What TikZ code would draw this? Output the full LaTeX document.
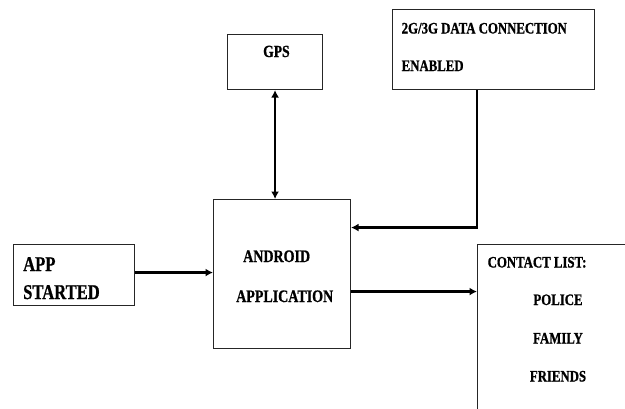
\documentclass[tikz,border=0pt]{standalone}
\usepackage{fontspec}
\newfontfamily\tnr{Liberation Serif}[FakeStretch=0.8,FakeBold=0.8]
\newfontfamily\tnrw{Liberation Serif}[FakeStretch=0.79,FakeBold=0.8]
\usetikzlibrary{arrows.meta}
\begin{document}
\begin{tikzpicture}[x=1pt,y=-1pt,
  box/.style={draw=black!85, line width=1.1pt, rectangle, anchor=north west, inner sep=0pt},
  lbl/.style={anchor=base west, inner sep=0pt, font=\tnr\bfseries\fontsize{16}{19}\selectfont},
  arr/.style={line width=2.4pt, -{Latex[length=7.5pt,width=8pt]}},
  arrtwo/.style={line width=2.4pt, {Latex[length=7.5pt,width=8pt]}-{Latex[length=7.5pt,width=8pt]}}]
\clip (0,0) rectangle (625,408);
\fill[white] (0,0) rectangle (625,408);
% boxes
\node[box, minimum width=121pt, minimum height=61pt] (app) at (13,244) {};
\node[box, minimum width=137pt, minimum height=149pt] (android) at (213,199) {};
\node[box, minimum width=95pt, minimum height=55pt] (gps) at (227,34) {};
\node[box, minimum width=202pt, minimum height=80pt] (gtwo) at (392,9) {};
\node[box, minimum width=160pt, minimum height=180pt] (contact) at (477,244) {};
% texts
\node[lbl, font=\tnrw\bfseries\fontsize{21}{25}\selectfont] (tapp) at (23,271) {APP};
\node[lbl, font=\tnrw\bfseries\fontsize{21}{25}\selectfont] (tstart) at (23,299) {STARTED};
\node[lbl, font=\tnr\bfseries\fontsize{17.5}{21}\selectfont] (tand) at (243,262) {ANDROID};
\node[lbl, font=\tnr\bfseries\fontsize{17.5}{21}\selectfont] (tappl) at (236,302) {APPLICATION};
\node[lbl, font=\tnr\bfseries\fontsize{17}{20}\selectfont] (tgps) at (263,57) {GPS};
\node[lbl] (tdata) at (401.5,33.5) {2G/3G DATA CONNECTION};
\node[lbl] (tena) at (401.5,71) {ENABLED};
\node[lbl] (tcl) at (487.5,267.5) {CONTACT LIST:};
\node[lbl, anchor=base] (tpol) at (558,305) {POLICE};
\node[lbl, anchor=base] (tfam) at (558,343.5) {FAMILY};
\node[lbl, anchor=base] (tfri) at (558,381.5) {FRIENDS};
% connectors
\draw[arrtwo] (gps.south) -- (gps.south |- android.north);
\draw[arr] ([xshift=85pt]gtwo.south west) |- ([yshift=46.5pt]android.east);
\draw[arr] ([yshift=2.5pt]app.east) -- ([yshift=2.5pt]app.east -| android.west);
\draw[arr] ([yshift=-17.5pt]android.east) -- ([yshift=-17.5pt]android.east -| contact.west);
\end{tikzpicture}
\end{document}
